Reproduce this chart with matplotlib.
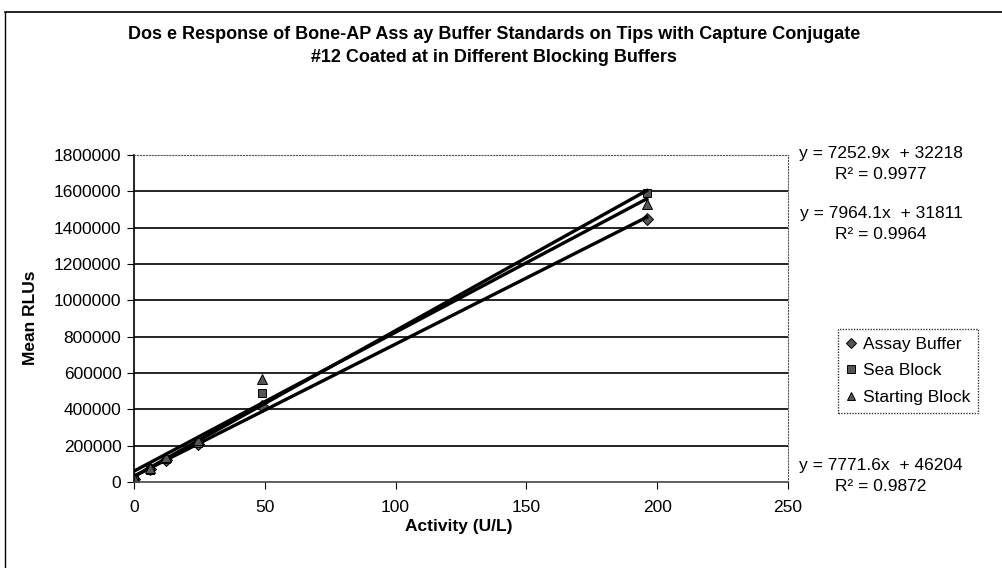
import matplotlib
matplotlib.use("Agg")
import matplotlib.pyplot as plt
from matplotlib.lines import Line2D
import numpy as np

plt.rcParams['font.family'] = ['Liberation Sans', 'DejaVu Sans']

# standards (U/L) and mean RLUs
activity = [0, 6.1, 12.25, 24.5, 49, 196]
assay_buffer = [15000, 70000, 120000, 210000, 420000, 1450000]
sea_block = [10000, 65000, 125000, 215000, 490000, 1590000]
starting_block = [20000, 75000, 140000, 230000, 565000, 1530000]

series_names = ['Assay Buffer', 'Sea Block', 'Starting Block']
fit_labels = ['y = 7252.9x  + 32218\nR² = 0.9977',
              'y = 7964.1x  + 31811\nR² = 0.9964',
              'y = 7771.6x  + 46204\nR² = 0.9872']

title = ('Dos e Response of Bone-AP Ass ay Buffer Standards on Tips with Capture Conjugate\n'
         '#12 Coated at in Different Blocking Buffers')

W, H = 1003, 568
fig = plt.figure(figsize=(W / 100, H / 100), dpi=100)
ax = fig.add_axes([134 / W, 1 - 482 / H, 654 / W, 327 / H])

# outer chart frame (only top and left edges visible)
fig.add_artist(Line2D([5 / W, 1.0], [1 - 12 / H, 1 - 12 / H], color='black', lw=1.2))
fig.add_artist(Line2D([5 / W, 5 / W], [0, 1 - 12 / H], color='black', lw=1.0))

markers = ['D', 's', '^']
sizes = [6, 6, 6.5]
for ys, m, name, sz in zip([assay_buffer, sea_block, starting_block], markers, series_names, sizes):
    ax.plot(activity, ys, linestyle='none', marker=m, markersize=sz, color='black',
            markerfacecolor='#555555', markeredgecolor='black', markeredgewidth=0.7, label=name)
    k, b = np.polyfit(activity, ys, 1)
    xs = np.array([0, activity[-1]])
    ax.plot(xs, k * xs + b, color='black', lw=2.4)

ax.set_xlim(0, 250)
ax.set_ylim(0, 1800000)
ax.set_xticks(np.arange(0, 251, 50))
ax.set_yticks(np.arange(0, 1800001, 200000))
ax.set_yticklabels([str(v) for v in range(0, 1800001, 200000)])
ax.tick_params(direction='out', length=5, labelsize=12.5, colors='black')
ax.tick_params(axis='x', pad=8)
ax.tick_params(axis='y', pad=4)

for v in range(200000, 1600001, 200000):
    ax.axhline(v, color='black', lw=1.2, zorder=0)
ax.spines['top'].set_linestyle(':')
ax.spines['top'].set_color('#555555')
ax.spines['right'].set_linestyle(':')
ax.spines['right'].set_color('#555555')
ax.spines['left'].set_linewidth(1.2)
ax.spines['bottom'].set_linewidth(1.2)
ax.spines['bottom'].set_color('#444444')

fig.text(459 / W, 1 - 527 / H, 'Activity (U/L)', ha='center', va='center',
         fontsize=12.5, fontweight='bold')
fig.text(31 / W, 1 - 318 / H, 'Mean RLUs', ha='center', va='center', rotation=90,
         fontsize=12.5, fontweight='bold')
fig.text(494 / W, 1 - 46 / H, title, ha='center', va='center', fontsize=13,
         fontweight='bold', linespacing=1.45)

fig.text(881 / W, 1 - 164 / H, fit_labels[0], ha='center', va='center', fontsize=12.5, linespacing=1.45)
fig.text(881 / W, 1 - 224 / H, fit_labels[1], ha='center', va='center', fontsize=12.5, linespacing=1.45)
fig.text(881 / W, 1 - 476 / H, fit_labels[2], ha='center', va='center', fontsize=12.5, linespacing=1.45)

leg = fig.legend(loc='upper left', bbox_to_anchor=(838 / W, 1 - 329 / H), fontsize=12.5,
                 frameon=True, fancybox=False, handlelength=0.6, handletextpad=0.4,
                 borderpad=0.45, labelspacing=0.65, markerscale=0.85, borderaxespad=0)
leg.get_frame().set_edgecolor('black')
leg.get_frame().set_linewidth(1.0)
leg.get_frame().set_linestyle((0, (1, 1)))

fig.savefig('out.png', dpi=100)
